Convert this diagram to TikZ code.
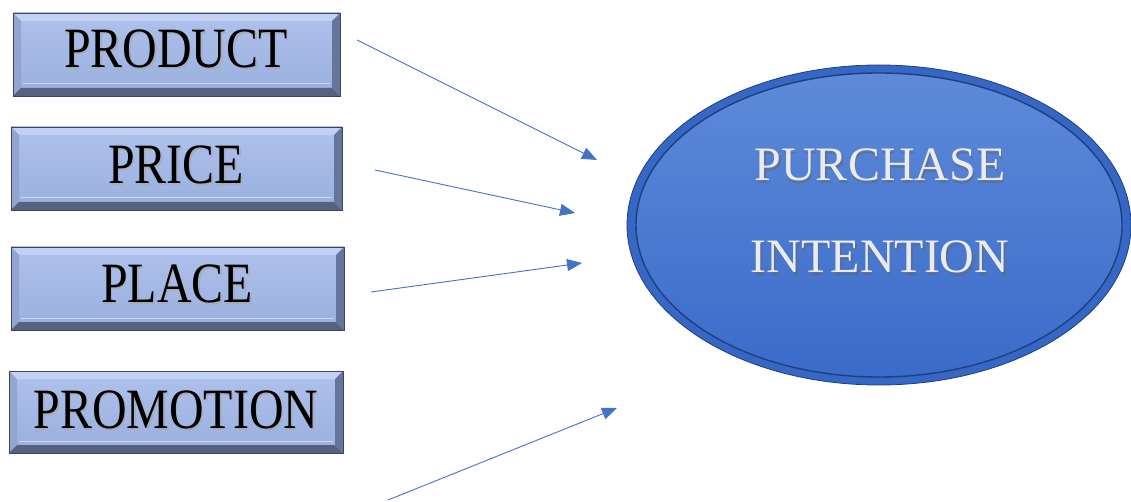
\documentclass[tikz,border=0pt]{standalone}
\usepackage{fontspec}
\setmainfont{Liberation Serif}
\usetikzlibrary{arrows.meta,shapes.geometric}
\definecolor{arrowblue}{HTML}{4472C4}
\definecolor{boxtop}{HTML}{AFC1EC}
\definecolor{boxbot}{HTML}{9AAFDE}
\definecolor{bevlight}{HTML}{C3D1F2}
\definecolor{bevleft}{HTML}{93A5CF}
\definecolor{bevdark}{HTML}{56637F}
\definecolor{bevright}{HTML}{66759A}
\definecolor{boxedge}{HTML}{3A4560}
\definecolor{elltop}{HTML}{5E8AD9}
\definecolor{ellbot}{HTML}{3A6BC9}
\definecolor{ellrim}{HTML}{3767C4}
\definecolor{ellline}{HTML}{1F3F7E}
\tikzset{
  bevbox/.style={rectangle, inner sep=0pt, minimum height=83pt,
    top color=boxtop, bottom color=boxbot, draw=boxedge, line width=0.8pt,
    path picture={
      \fill[bevlight] (path picture bounding box.north west) -- (path picture bounding box.north east)
        -- ([shift={(-8pt,-8pt)}]path picture bounding box.north east) -- ([shift={(8pt,-8pt)}]path picture bounding box.north west) -- cycle;
      \fill[bevleft] (path picture bounding box.north west) -- ([shift={(8pt,-8pt)}]path picture bounding box.north west)
        -- ([shift={(8pt,8pt)}]path picture bounding box.south west) -- (path picture bounding box.south west) -- cycle;
      \fill[bevdark] (path picture bounding box.south west) -- (path picture bounding box.south east)
        -- ([shift={(-8pt,8pt)}]path picture bounding box.south east) -- ([shift={(8pt,8pt)}]path picture bounding box.south west) -- cycle;
      \fill[bevright] (path picture bounding box.north east) -- ([shift={(-8pt,-8pt)}]path picture bounding box.north east)
        -- ([shift={(-8pt,8pt)}]path picture bounding box.south east) -- (path picture bounding box.south east) -- cycle;
      \draw[white,opacity=0.5,line width=1pt] ([shift={(10pt,12pt)}]path picture bounding box.south west) -- ([shift={(-10pt,12pt)}]path picture bounding box.south east);
    }},
  boxtext/.style={font=\fontsize{57}{60}\selectfont, text=black, inner sep=0pt},
  elltext/.style={font=\fontsize{48}{50}\selectfont, text=white!92!black, inner sep=0pt},
  conn/.style={draw=arrowblue, line width=0.9pt, -{Triangle[length=15pt,width=12pt]}}
}
\newcommand{\hsq}[1]{\scalebox{0.84}[1]{#1}}
\begin{document}
\begin{tikzpicture}[x=1pt,y=-1pt]
\useasboundingbox (0,0) rectangle (1131,502);
% boxes
\node[bevbox, minimum width=327pt] (product) at (176.5,54.5) {};
\node[bevbox, minimum width=331pt] (price) at (176.5,168.5) {};
\node[bevbox, minimum width=333pt] (place) at (177.5,288.5) {};
\node[bevbox, minimum width=334pt, minimum height=82pt] (promotion) at (176,412) {};
% box texts with slight shadow
\foreach \nm/\tx/\px/\py in {productT/PRODUCT/176/49, priceT/PRICE/176/165, placeT/PLACE/177/284, promotionT/PROMOTION/176/410}{
  \node[boxtext, text=black!35, opacity=0.6] (\nm s) at (\px+1.5,\py+1.5) {\hsq{\tx}};
  \node[boxtext] (\nm) at (\px,\py) {\hsq{\tx}};
}
% ellipse
\node[ellipse, minimum width=504pt, minimum height=320pt, fill=ellrim, draw=ellline, line width=0.8pt] (pi) at (879,225) {};
\path[top color=elltop, bottom color=ellbot, draw=ellline, line width=1.4pt]
  (879,225) ellipse [x radius=243pt, y radius=152pt];
\node[elltext, text=black!60, opacity=0.5] (pt1s) at (881.5,167.5) {PURCHASE};
\node[elltext] (pt1) at (880,165) {PURCHASE};
\node[elltext, text=black!60, opacity=0.5] (pt2s) at (881.5,259.5) {INTENTION};
\node[elltext] (pt2) at (880,257) {INTENTION};
% arrows
\coordinate (a1s) at (357,40);  \coordinate (a1e) at (597,160);
\coordinate (a2s) at (375,170); \coordinate (a2e) at (575,213);
\coordinate (a3s) at (371,292); \coordinate (a3e) at (582,263);
\coordinate (a4s) at (388,500); \coordinate (a4e) at (617,408);
\draw[conn] (a1s) -- (a1e);
\draw[conn] (a2s) -- (a2e);
\draw[conn] (a3s) -- (a3e);
\draw[conn] (a4s) -- (a4e);
\end{tikzpicture}
\end{document}
